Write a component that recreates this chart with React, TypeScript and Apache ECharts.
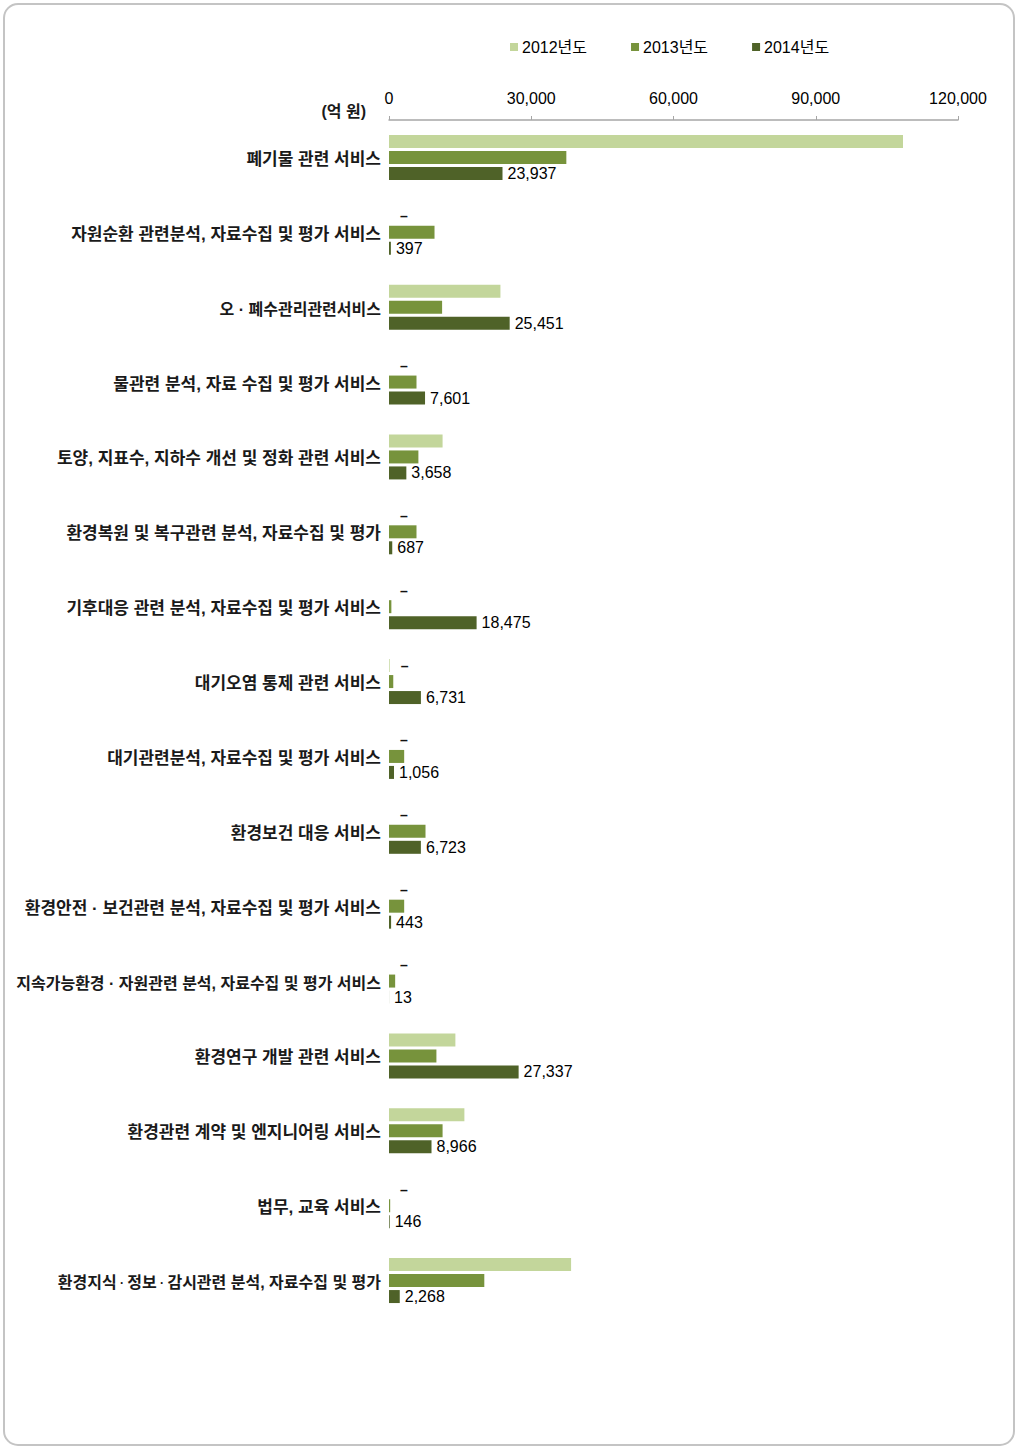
import React, { useEffect, useRef } from "react";
import * as echarts from "echarts";

const categories: string[] = [
  "폐기물 관련 서비스",
  "자원순환 관련분석, 자료수집 및 평가 서비스",
  "오 · 폐수관리관련서비스",
  "물관련 분석, 자료 수집 및 평가 서비스",
  "토양, 지표수, 지하수 개선 및 정화 관련 서비스",
  "환경복원 및 복구관련 분석, 자료수집 및 평가",
  "기후대응 관련 분석, 자료수집 및 평가 서비스",
  "대기오염 통제 관련 서비스",
  "대기관련분석, 자료수집 및 평가 서비스",
  "환경보건 대응 서비스",
  "환경안전 · 보건관련 분석, 자료수집 및 평가 서비스",
  "지속가능환경 · 자원관련 분석, 자료수집 및 평가 서비스",
  "환경연구 개발 관련 서비스",
  "환경관련 계약 및 엔지니어링 서비스",
  "법무, 교육 서비스",
  "환경지식 · 정보 · 감시관련 분석, 자료수집 및 평가",
];

const seriesNames: string[] = ["2012년도", "2013년도", "2014년도"];

// null = "–" (no data)
const values2012: (number | null)[] = [
  108400, null, 23500, null, 11300, null, null, 150, null, null, null, null, 14000, 15900, null, 38400,
];
// categories where the 2012 value is marked with a dash
const dash2012: boolean[] = [
  false, true, false, true, false, true, true, true, true, true, true, true, false, false, true, false,
];
const values2013: number[] = [
  37400, 9600, 11200, 5800, 6200, 5800, 500, 900, 3200, 7700, 3200, 1300, 10000, 11300, 250, 20100,
];
const values2014: number[] = [
  23937, 397, 25451, 7601, 3658, 687, 18475, 6731, 1056, 6723, 443, 13, 27337, 8966, 146, 2268,
];

const xTicks: number[] = [0, 30000, 60000, 90000, 120000];

const colors = ["#C3D69B", "#77933C", "#4F6228"];

export default function App() {
  const ref = useRef<HTMLDivElement>(null);
  useEffect(() => {
    if (!ref.current) return;
    const chart = echarts.init(ref.current, undefined, { renderer: "svg" });
    const fmt = (v: number) => v.toLocaleString("en-US");
    const latin = "'Liberation Sans', 'Noto Sans CJK KR', Arial, sans-serif";

    const data2012 = values2012.map((v, i) => {
      if (dash2012[i]) {
        return {
          value: v === null ? 0 : v,
          label: {
            show: true,
            position: "right",
            distance: 11,
            formatter: "–",
            color: "#111",
            fontSize: 14,
            fontWeight: "bold",
            fontFamily: latin,
          },
        };
      }
      return { value: v as number };
    });

    const labelFormatter = (v: string, idx: number) => {
      if (idx === 2 || idx === 11) return "{s|" + v + "}";
      if (idx === 15) return "{s|" + v.split(" · ").join("}{d| · }{s|") + "}";
      return v;
    };

    chart.setOption({
      animation: false,
      backgroundColor: "#ffffff",
      color: colors,
      legend: {
        data: seriesNames,
        left: 505,
        top: 34,
        icon: "rect",
        itemWidth: 8,
        itemHeight: 8,
        itemGap: 44,
        textStyle: { fontSize: 16, color: "#000", fontFamily: latin, padding: [0, 0, 0, -1] },
      },
      grid: {
        left: 389,
        width: 569,
        top: 120,
        height: 1198,
        containLabel: false,
        outerBoundsMode: "none",
      },
      xAxis: {
        type: "value",
        position: "top",
        min: xTicks[0],
        max: xTicks[xTicks.length - 1],
        interval: 30000,
        axisLine: { show: true, lineStyle: { color: "#a6a6a6", width: 1.5 } },
        axisTick: { show: true, length: 4, lineStyle: { color: "#a6a6a6" } },
        splitLine: { show: false },
        axisLabel: {
          formatter: (v: number) => fmt(v),
          fontSize: 16,
          color: "#000",
          fontFamily: latin,
          margin: 14,
        },
      },
      yAxis: {
        type: "category",
        inverse: true,
        data: categories,
        axisLine: { show: false },
        axisTick: { show: false },
        axisLabel: {
          fontSize: 17,
          fontWeight: "bold",
          color: "#1a1a1a",
          fontFamily: latin,
          margin: 8,
          padding: [4, 0, 0, 0],
          formatter: labelFormatter,
          rich: {
            s: {
              fontSize: 16,
              fontWeight: "bold",
              color: "#1a1a1a",
              fontFamily: latin,
            },
            d: {
              fontSize: 12,
              fontWeight: "bold",
              color: "#1a1a1a",
              fontFamily: latin,
            },
          },
        },
      },
      series: [
        {
          name: seriesNames[0],
          type: "bar",
          barWidth: 13,
          barGap: "23%",
          data: data2012,
          itemStyle: { color: colors[0] },
        },
        {
          name: seriesNames[1],
          type: "bar",
          barWidth: 13,
          barGap: "23%",
          data: values2013,
          itemStyle: { color: colors[1] },
        },
        {
          name: seriesNames[2],
          type: "bar",
          barWidth: 13,
          barGap: "23%",
          data: values2014,
          itemStyle: { color: colors[2] },
          label: {
            show: true,
            position: "right",
            distance: 5,
            formatter: (p: any) => fmt(p.value),
            fontSize: 16,
            color: "#000",
            fontFamily: latin,
          },
        },
      ],
      graphic: [
        {
          type: "rect",
          shape: { x: 4, y: 4, width: 1010, height: 1441, r: 14 },
          style: { fill: "none", stroke: "#c4c4c4", lineWidth: 2 },
          silent: true,
        },
        {
          type: "text",
          x: 366,
          y: 111,
          style: {
            text: "(억 원)",
            fontSize: 16,
            fontWeight: "bold",
            fontFamily: latin,
            fill: "#1a1a1a",
            align: "right",
            verticalAlign: "middle",
          },
        },
      ],
    });
    return () => chart.dispose();
  }, []);
  return (
    <div
      ref={ref}
      style={{ position: "fixed", left: 0, top: 0, width: 1017, height: 1449 }}
    />
  );
}
